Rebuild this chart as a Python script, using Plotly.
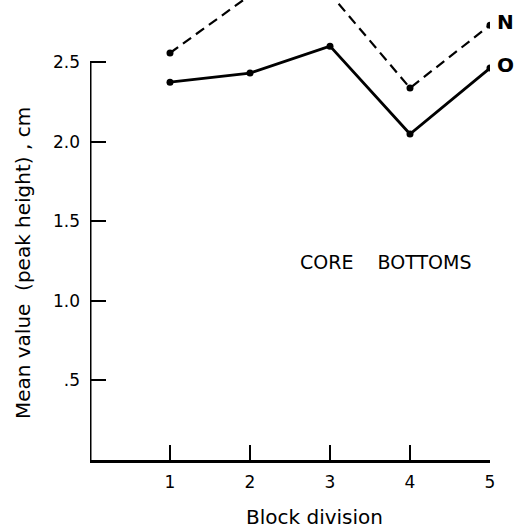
import plotly.graph_objects as go

# Data
blocks = [1, 2, 3, 4, 5]
series_N = [2.557, 2.92, 2.93, 2.337, 2.732]
series_O = [2.374, 2.431, 2.60, 2.048, 2.462]
y_tickvals = [0.5, 1.0, 1.5, 2.0, 2.5]
y_ticktext = [".5", "1.0", "1.5", "2.0", "2.5"]
x_ticktext = ["1", "2", "3", "4", "5"]

FONT = "DejaVu Sans"

fig = go.Figure()
fig.add_trace(go.Scatter(
    x=blocks, y=series_N, mode="lines+markers",
    line=dict(color="black", width=2.2, dash="10px,6px"),
    marker=dict(color="black", size=7),
    showlegend=False,
))
fig.add_trace(go.Scatter(
    x=blocks, y=series_O, mode="lines+markers",
    line=dict(color="black", width=2.8),
    marker=dict(color="black", size=7),
    showlegend=False,
))

# y axis line from 0 to top tick only
fig.add_shape(type="line", xref="x", yref="y",
              x0=0, x1=0, y0=0, y1=y_tickvals[-1],
              line=dict(color="black", width=3))

# series labels
fig.add_annotation(x=blocks[-1], y=series_N[-1], text="<b>N</b>", showarrow=False,
                   xanchor="left", xshift=5, yshift=3,
                   font=dict(family=FONT, size=20, color="black"))
fig.add_annotation(x=blocks[-1], y=series_O[-1], text="<b>O</b>", showarrow=False,
                   xanchor="left", xshift=5, yshift=3,
                   font=dict(family=FONT, size=20, color="black"))

fig.add_annotation(x=3.7, y=1.244, text="CORE    BOTTOMS", showarrow=False,
                   font=dict(family=FONT, size=19, color="black"))

# axis titles
fig.add_annotation(xref="paper", yref="paper", x=0.56, y=-0.124,
                   text="Block division", showarrow=False, yanchor="middle",
                   font=dict(family=FONT, size=20, color="black"))
fig.add_annotation(xref="paper", yref="paper", x=-0.1675, y=0.428,
                   text="Mean value  (peak height) , cm", showarrow=False,
                   textangle=-90, xanchor="center", yanchor="middle",
                   font=dict(family=FONT, size=20, color="black"))

fig.update_xaxes(
    range=[0, 5], tickvals=blocks, ticktext=x_ticktext,
    ticks="inside", ticklen=15, tickwidth=2, tickcolor="black",
    showline=True, linecolor="black", linewidth=3,
    showgrid=False, zeroline=False, ticklabelstandoff=5, automargin=False,
    tickfont=dict(family=FONT, size=17, color="black"),
)
fig.update_yaxes(
    range=[0, 2.89], tickvals=y_tickvals, ticktext=y_ticktext,
    ticks="inside", ticklen=16, tickwidth=2, tickcolor="black",
    showline=False, showgrid=False, zeroline=False, ticklabelstandoff=9,
    automargin=False,
    tickfont=dict(family=FONT, size=17, color="black"),
)

fig.update_layout(
    width=528, height=532,
    margin=dict(l=90, r=38, t=0, b=72, autoexpand=False),
    plot_bgcolor="white", paper_bgcolor="white",
    font=dict(family=FONT, color="black"),
)

fig.write_html("out.html", config={"displayModeBar": False},
               post_script="document.body.style.margin='0';")
